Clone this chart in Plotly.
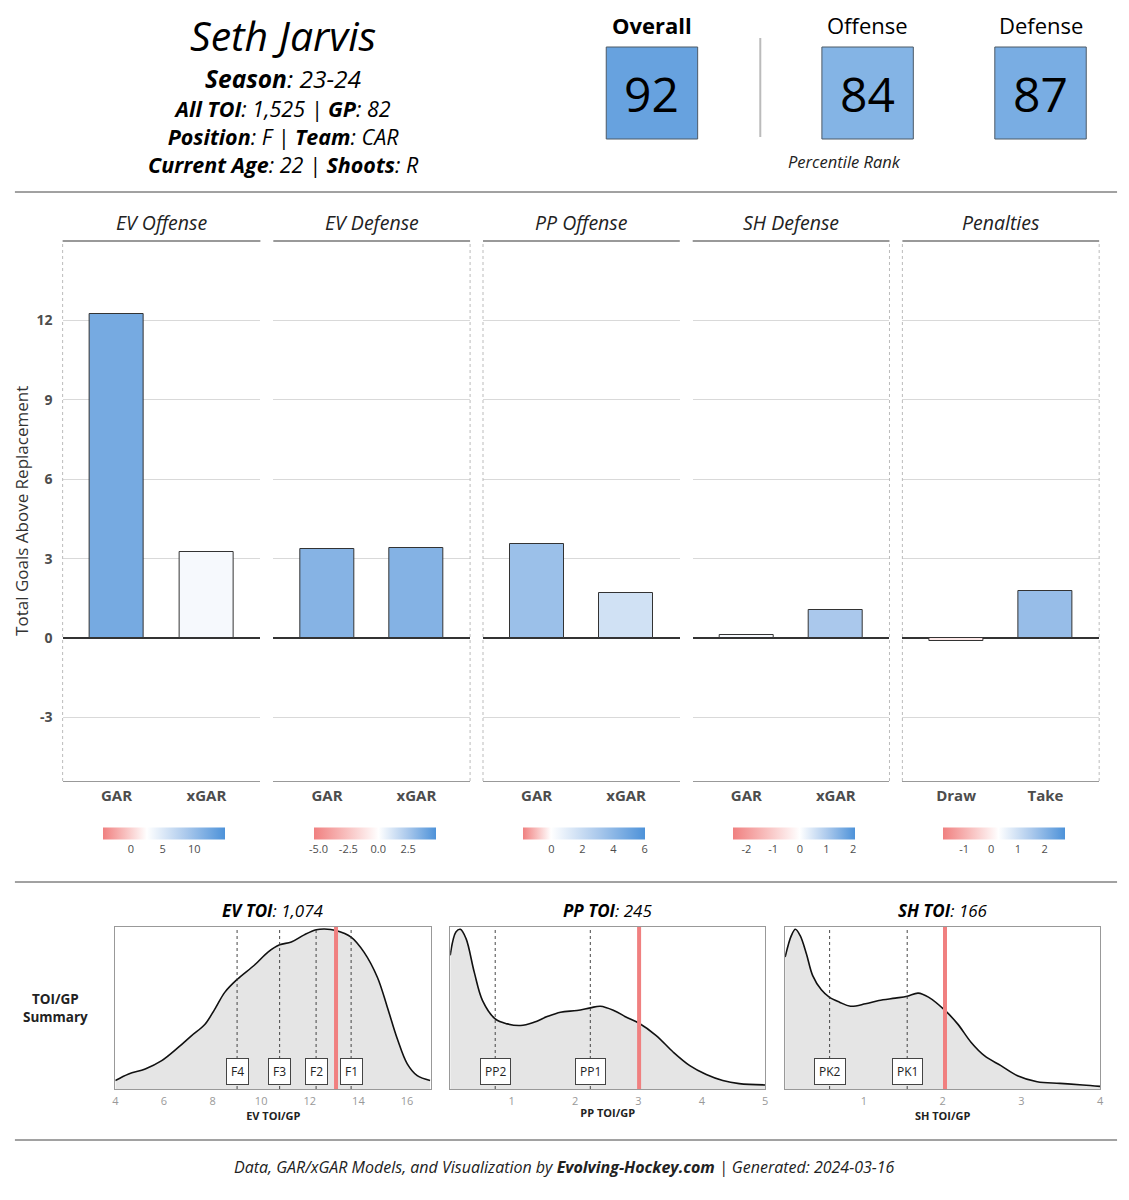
"""
Player card: GAR / xGAR by component plus TOI/GP distributions.
"""
import plotly.graph_objects as go
from plotly.colors import sample_colorscale

W, H = 1129, 1200
FONT = "Open Sans"

# ---- header data ----
player = "Seth Jarvis"
season = "23-24"
all_toi = "1,525"
gp = 82
position = "F"
team = "CAR"
age = 22
shoots = "R"
rating_names = ["Overall", "Offense", "Defense"]
rating_values = [92, 84, 87]

# ---- GAR panels ----
panel_names = ["EV Offense", "EV Defense", "PP Offense", "SH Defense", "Penalties"]
bar_cats = [["GAR", "xGAR"], ["GAR", "xGAR"], ["GAR", "xGAR"], ["GAR", "xGAR"], ["Draw", "Take"]]
bar_vals = [[12.24, 3.24], [3.35, 3.39], [3.54, 1.69], [0.11, 1.05], [-0.10, 1.77]]
scale_lims = [(-4.3, 14.9), (-5.4, 4.8), (-1.8, 6.05), (-2.5, 2.07), (-1.8, 2.75)]
scale_mids = [2.6, 0.0, 0.0, 0.0, 0.27]
scale_ticks = [[0, 5, 10], [-5, -2.5, 0, 2.5], [0, 2, 4, 6], [-2, -1, 0, 1, 2], [-1, 0, 1, 2]]
scale_ticktext = [["0", "5", "10"], ["-5.0", "-2.5", "0.0", "2.5"], ["0", "2", "4", "6"],
                  ["-2", "-1", "0", "1", "2"], ["-1", "0", "1", "2"]]
gar_ticks = [-3, 0, 3, 6, 9, 12]
gar_ticktext = ["-3", "0", "3", "6", "9", "12"]

# ---- TOI/GP densities ----
toi_titles = ["EV TOI", "PP TOI", "SH TOI"]
toi_totals = ["1,074", "245", "166"]
toi_axis_titles = ["EV TOI/GP", "PP TOI/GP", "SH TOI/GP"]
ev_x = [4.0, 4.55, 5.23, 5.91, 6.6, 7.14, 7.69, 8.1, 8.51, 9.01, 9.74, 10.28, 10.76, 11.24,
        11.79, 12.27, 12.6, 13.08, 13.7, 14.23, 14.78, 15.19, 15.6, 16.01, 16.42, 16.95]
ev_y = [0.052, 0.093, 0.124, 0.175, 0.258, 0.33, 0.40, 0.495, 0.598, 0.676, 0.767, 0.845, 0.89,
        0.907, 0.953, 0.983, 0.988, 0.979, 0.938, 0.845, 0.69, 0.505, 0.31, 0.155, 0.082, 0.052]
pp_x = [0.03, 0.12, 0.19, 0.28, 0.41, 0.54, 0.74, 0.93, 1.14, 1.35, 1.56, 1.77, 2.03, 2.24,
        2.40, 2.61, 2.81, 3.01, 3.28, 3.55, 3.81, 4.07, 4.33, 4.59, 5.0]
pp_y = [0.825, 0.969, 0.986, 0.928, 0.72, 0.546, 0.433, 0.402, 0.392, 0.412, 0.447, 0.474,
        0.485, 0.501, 0.511, 0.485, 0.443, 0.406, 0.33, 0.227, 0.144, 0.089, 0.052, 0.033, 0.025]
sh_x = [0.0, 0.08, 0.13, 0.19, 0.27, 0.35, 0.46, 0.56, 0.69, 0.83, 1.02, 1.19, 1.40, 1.55,
        1.69, 1.82, 2.03, 2.19, 2.36, 2.53, 2.74, 2.95, 3.20, 3.49, 3.78, 4.0]
sh_y = [0.814, 0.948, 0.986, 0.948, 0.835, 0.70, 0.612, 0.567, 0.536, 0.511, 0.526, 0.546,
        0.561, 0.573, 0.592, 0.567, 0.485, 0.402, 0.289, 0.206, 0.144, 0.082, 0.045, 0.035,
        0.025, 0.016]
toi_ranges = [(4, 17), (0.03, 5), (0, 4)]
toi_tickvals = [[4, 6, 8, 10, 12, 14, 16], [1, 2, 3, 4, 5], [1, 2, 3, 4]]
player_toi = [13.08, 3.01, 2.03]
line_names = [["F4", "F3", "F2", "F1"], ["PP2", "PP1"], ["PK2", "PK1"]]
line_vals = [[9.01, 10.76, 12.26, 13.70], [0.74, 2.24], [0.565, 1.55]]

footer = ("<i>Data, GAR/xGAR Models, and Visualization by </i><b><i>Evolving-Hockey.com</i></b>"
          "<i> | Generated: 2024-03-16</i>")


def px(x):
    return x / W


def py(y):
    return 1 - y / H


def diverging(mid):
    return [[0, "#F08080"], [mid / 2, "#F8BFBE"], [mid, "#FFFFFF"],
            [mid + (1 - mid) / 2, "#ABC9EC"], [1, "#4D92D9"]]


fig = go.Figure()
annotations = []
shapes = []

# ---------- header ----------
annotations.append(dict(x=px(282), y=py(35), text=f"<i>{player}</i>", font=dict(size=41, color="#000")))
annotations.append(dict(x=px(282), y=py(78.5), text=f"<b><i>Season</i></b><i>: {season}</i>",
                        font=dict(size=24.5, color="#000")))
info_text = "<br>".join([
    f"<b><i>All TOI</i></b><i>: {all_toi} | </i><b><i>GP</i></b><i>: {gp}</i>",
    f"<b><i>Position</i></b><i>: {position} | </i><b><i>Team</i></b><i>: {team}</i>",
    f"<b><i>Current Age</i></b><i>: {age} | </i><b><i>Shoots</i></b><i>: {shoots}</i>",
])
annotations.append(dict(x=px(282), y=py(136.5), text=info_text, font=dict(size=21.5, color="#000")))

rating_cs = [[0, "#F08080"], [0.5, "#FFFFFF"], [1, "#4A90D9"]]
box_centers = [653, 870, 1044]
for name, val, cx in zip(rating_names, rating_values, box_centers):
    label = f"<b>{name}</b>" if name == "Overall" else name
    annotations.append(dict(x=px(cx), y=py(25), text=label, font=dict(size=22, color="#000")))
    col = sample_colorscale(rating_cs, [val / 100])[0]
    shapes.append(dict(type="rect", xref="paper", yref="paper", x0=px(cx - 46), x1=px(cx + 46),
                       y0=py(139), y1=py(47), fillcolor=col, line=dict(color="#4d5a66", width=1)))
    annotations.append(dict(x=px(cx), y=py(93), text=str(val), font=dict(size=48, color="#000")))
shapes.append(dict(type="line", xref="paper", yref="paper", x0=px(762), x1=px(762), y0=py(38), y1=py(137),
                   line=dict(color="#BBBBBB", width=2)))
annotations.append(dict(x=px(847), y=py(161), text="<i>Percentile Rank</i>", font=dict(size=16.5, color="#222")))

# rules
for yy in [192, 882, 1140]:
    shapes.append(dict(type="line", xref="paper", yref="paper", x0=px(12), x1=px(1121), y0=py(yy), y1=py(yy),
                       line=dict(color="#444", width=1)))

# ---------- GAR bar panels ----------
panel_x = [(60, 259), (272, 470), (483, 681), (694, 892), (905, 1103)]
bar_top, bar_bot = 241, 781
layout_axes = {}
for i in range(5):
    n = i + 1
    xa = "x" if n == 1 else f"x{n}"
    ya = "y" if n == 1 else f"y{n}"
    lo, hi = scale_lims[i]
    mid = (scale_mids[i] - lo) / (hi - lo)
    x0, x1 = panel_x[i]
    fig.add_trace(go.Bar(
        x=bar_cats[i], y=bar_vals[i], xaxis=xa, yaxis=ya, width=0.6,
        marker=dict(
            color=bar_vals[i], colorscale=diverging(mid), cmin=lo, cmax=hi,
            line=dict(color="#333", width=1),
            colorbar=dict(orientation="h", x=px((x0 + x1) / 2 + 3), xanchor="center", y=py(841),
                          yanchor="middle", len=122, lenmode="pixels", thickness=12,
                          xpad=0, ypad=0, outlinewidth=0, tickvals=scale_ticks[i],
                          ticktext=scale_ticktext[i], ticks="",
                          tickfont=dict(size=11, color="#4d4d4d", family=FONT)),
        ),
        showlegend=False, hoverinfo="x+y",
    ))
    layout_axes["xaxis" if n == 1 else f"xaxis{n}"] = dict(
        domain=[px(x0), px(x1)], anchor=ya, type="category", range=[-0.6, 1.6],
        showline=True, linecolor="#999", linewidth=1, ticks="", showgrid=False,
        tickvals=bar_cats[i], ticktext=[f"<b>{c}</b>" for c in bar_cats[i]],
        tickfont=dict(size=15, color="#4d4d4d"), ticklabelstandoff=1,
    )
    layout_axes["yaxis" if n == 1 else f"yaxis{n}"] = dict(
        domain=[py(bar_bot), py(bar_top)], anchor=xa, range=[-5.4, 15], tickvals=gar_ticks,
        ticktext=[f"<b>{t}</b>" for t in gar_ticktext],
        showticklabels=(n == 1), ticks="", gridcolor="#D9D9D9", gridwidth=1,
        zeroline=True, zerolinecolor="#333", zerolinewidth=2,
        tickfont=dict(size=14, color="#4d4d4d"), ticklabelstandoff=9,
    )
    # strip title and line
    annotations.append(dict(x=px((x0 + x1) / 2), y=py(223), text=f"<i>{panel_names[i]}</i>",
                            font=dict(size=19.5, color="#222")))
    shapes.append(dict(type="line", xref="paper", yref="paper", x0=px(x0), x1=px(x1), y0=py(bar_top),
                       y1=py(bar_top), line=dict(color="#999", width=2)))

# dotted group borders
for xx in [60, 470, 483, 892, 905, 1103]:
    shapes.append(dict(type="line", xref="paper", yref="paper", x0=px(xx), x1=px(xx), y0=py(bar_bot),
                       y1=py(bar_top), line=dict(color="#BBBBBB", width=1, dash="dot")))

annotations.append(dict(x=px(19), y=py(511), text="Total Goals Above Replacement", textangle=-90,
                        font=dict(size=17, color="#333")))

# ---------- TOI densities ----------
dens_x = [(113, 431), (450, 767), (787, 1104)]
dens_top, dens_bot = 927, 1089
dens_data = [(ev_x, ev_y), (pp_x, pp_y), (sh_x, sh_y)]
for j in range(3):
    n = 6 + j
    xa, ya = f"x{n}", f"y{n}"
    x0, x1 = dens_x[j]
    xs, ys = dens_data[j]
    fig.add_trace(go.Scatter(
        x=xs, y=ys, xaxis=xa, yaxis=ya, mode="lines", fill="tozeroy", fillcolor="#E5E5E5",
        line=dict(color="#111", width=1.6, shape="spline", smoothing=1.0),
        showlegend=False, hoverinfo="skip",
    ))
    layout_axes[f"xaxis{n}"] = dict(
        domain=[px(x0), px(x1)], anchor=ya, range=list(toi_ranges[j]), tickvals=toi_tickvals[j],
        showline=True, mirror=True, linecolor="#999", linewidth=1, ticks="", showgrid=False,
        zeroline=False, tickfont=dict(size=11, color="#999"), ticklabelstandoff=2,
        title=dict(text=f"<b>{toi_axis_titles[j]}</b>", font=dict(size=11, color="#222"), standoff=2),
    )
    layout_axes[f"yaxis{n}"] = dict(
        domain=[py(dens_bot), py(dens_top)], anchor=xa, range=[0, 1], showticklabels=False,
        showline=True, mirror=True, linecolor="#999", linewidth=1, ticks="", showgrid=False,
        zeroline=False,
    )
    for name, v in zip(line_names[j], line_vals[j]):
        shapes.append(dict(type="line", xref=xa, yref=f"{ya} domain", x0=v, x1=v, y0=0, y1=1,
                           line=dict(color="#333", width=0.9, dash="3px,3px")))
        annotations.append(dict(x=v, y=0.107, xref=xa, yref=ya, text=name, showarrow=False,
                                font=dict(size=12, color="#222"), bgcolor="white",
                                bordercolor="#444", borderwidth=1, borderpad=4))
    shapes.append(dict(type="line", xref=xa, yref=f"{ya} domain", x0=player_toi[j], x1=player_toi[j],
                       y0=0, y1=1, line=dict(color="#F08080", width=4)))
    annotations.append(dict(x=px((x0 + x1) / 2), y=py(910),
                            text=f"<b><i>{toi_titles[j]}</i></b><i>: {toi_totals[j]}</i>",
                            font=dict(size=17, color="#000")))

annotations.append(dict(x=px(53), y=py(1008), text="<b>TOI/GP<br>Summary</b>",
                        font=dict(size=13.5, color="#222")))
annotations.append(dict(x=px(565), y=py(1167), text=footer, font=dict(size=16, color="#222")))

for a in annotations:
    a.setdefault("xref", "paper")
    a.setdefault("yref", "paper")
    a.setdefault("showarrow", False)
    a.setdefault("xanchor", "center")
    a.setdefault("yanchor", "middle")

fig.update_layout(
    width=W, height=H, margin=dict(l=0, r=0, t=0, b=0),
    paper_bgcolor="white", plot_bgcolor="white",
    font=dict(family=FONT, color="#222"),
    annotations=annotations, shapes=shapes, bargap=0, **layout_axes,
)

fig.write_html(
    "out.html",
    config={"displayModeBar": False},
    post_script="document.body.style.margin='0';document.body.style.overflow='hidden';",
)
